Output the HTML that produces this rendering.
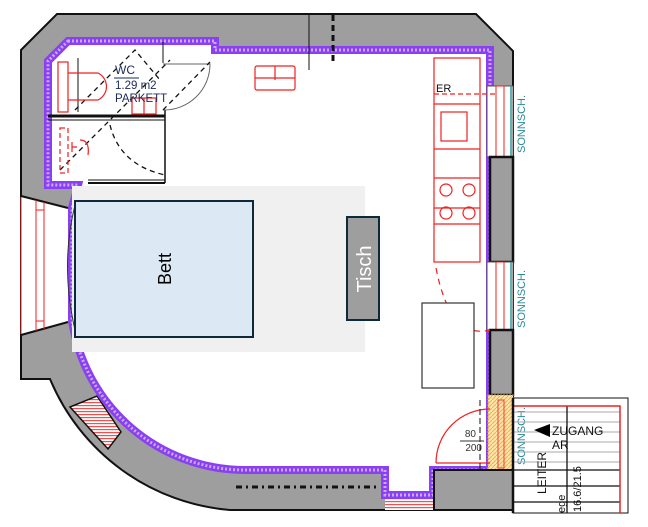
<!DOCTYPE html>
<html><head><style>body{margin:0;background:#fff}svg{display:block}</style></head>
<body>
<svg width="648" height="527" viewBox="0 0 648 527" xmlns="http://www.w3.org/2000/svg" font-family="Liberation Sans, sans-serif">
<defs>
<pattern id="hr" width="4" height="3" patternUnits="userSpaceOnUse"><rect width="4" height="3" fill="#fff"/><rect width="4" height="1.2" fill="#f05050"/></pattern>
<pattern id="hy" width="4" height="4" patternUnits="userSpaceOnUse"><rect width="4" height="4" fill="#fde7b0"/><path d="M0,4 L4,0" stroke="#f5b040" stroke-width="1"/></pattern>
</defs>
<path d="M21,50 L57,14 L476,14 L513,51 L513,510 L230,510 A214,214 0 0 1 50,379 L21,379 Z" fill="#9e9e9e" stroke="#111" stroke-width="2"/>
<polygon points="21,196 68,208 68,322 21,335" fill="#fff"/>
<line x1="21" y1="196" x2="68" y2="208" stroke="#111" stroke-width="2"/>
<line x1="21" y1="335" x2="68" y2="322" stroke="#111" stroke-width="2"/>
<g stroke="#f02020" stroke-width="1" fill="none"><line x1="21" y1="197" x2="21" y2="334"/><line x1="36" y1="200" x2="36" y2="331"/><line x1="44" y1="202" x2="44" y2="329"/><line x1="36" y1="210" x2="44" y2="210"/><line x1="36" y1="321" x2="44" y2="321"/></g>
<polygon points="70,407 97,396 121,432 108,449" fill="url(#hr)" stroke="#111" stroke-width="1.5"/>
<rect x="385" y="498" width="48" height="12" fill="url(#hr)"/>
<path d="M68,41 L215,41 L215,50 L490,50 L490,470 L433,470 L433,495 L385,495 L385,470 L245,470 A175,175 0 0 1 72,320 L72,208 L78,185 L48,185 L48,61 Z" fill="#fff" stroke="#8a40f0" stroke-width="8" stroke-linejoin="miter"/>
<path d="M68,41 L215,41 L215,50 L490,50 L490,470 L433,470 L433,495 L385,495 L385,470 L245,470 A175,175 0 0 1 72,320 L72,208 L78,185 L48,185 L48,61 Z" fill="none" stroke="#c9a8ff" stroke-width="3" stroke-dasharray="2 2"/>
<rect x="487" y="86" width="26" height="71" fill="#fff" stroke="#555" stroke-width="1"/>
<line x1="511" y1="86" x2="511" y2="157" stroke="#2a9a9a" stroke-width="1.5"/>
<rect x="496" y="86" width="8" height="71" fill="none" stroke="#f02020"/>
<rect x="490" y="157" width="23" height="105" fill="#9e9e9e" stroke="#111" stroke-width="2.5"/>
<rect x="487" y="262" width="26" height="68" fill="#fff" stroke="#555" stroke-width="1"/>
<line x1="511" y1="262" x2="511" y2="330" stroke="#2a9a9a" stroke-width="1.5"/>
<rect x="496" y="262" width="8" height="68" fill="none" stroke="#f02020"/>
<rect x="490" y="330" width="23" height="65" fill="#9e9e9e" stroke="#111" stroke-width="2.5"/>
<rect x="488" y="395" width="25" height="75" fill="url(#hy)" stroke="#c9a050" stroke-dasharray="2 1"/>
<rect x="498" y="400" width="6" height="68" fill="none" stroke="#f04040"/>
<rect x="434" y="470" width="79" height="40" fill="#9e9e9e" stroke="#111" stroke-width="2"/>
<rect x="72" y="186" width="293" height="166" fill="#f0f0f0"/>
<path d="M75,205 Q60,265 75,330" fill="none" stroke="#333" stroke-width="1"/>
<rect x="75" y="201" width="178" height="136" fill="#dce9f5" stroke="#0d2a3a" stroke-width="2"/>
<text transform="translate(171,269) rotate(-90)" font-size="18" text-anchor="middle" fill="#000">Bett</text>
<rect x="347" y="217" width="32" height="103" fill="#9e9e9e" stroke="#0d2a3a" stroke-width="2"/>
<text transform="translate(371,269) rotate(-90)" font-size="20" text-anchor="middle" fill="#fff">Tisch</text>
<g stroke="#111" fill="none">
<line x1="48" y1="116" x2="165" y2="116" stroke-width="3"/>
<line x1="48" y1="120" x2="165" y2="120" stroke-width="1"/>
<line x1="88" y1="183" x2="165" y2="183" stroke-width="2"/>
<line x1="88" y1="180" x2="165" y2="180" stroke-width="1"/>
<line x1="165" y1="110" x2="165" y2="183" stroke-width="1.5"/>
<line x1="78" y1="58" x2="78" y2="112" stroke-width="1"/>
<line x1="163" y1="42" x2="163" y2="63" stroke-width="1"/>
<line x1="309" y1="14" x2="309" y2="70" stroke-width="1"/>
<path d="M163,64 L210,64 A46,46 0 0 1 163,110" stroke="#666" stroke-width="1"/>
<g stroke-dasharray="5 4" stroke-width="1.3"><path d="M75,110 L135,50 L160,80"/><path d="M163,110 L210,62"/><path d="M60,170 L110,120 L170,60"/><path d="M110,125 Q120,165 165,175"/></g>
<line x1="333" y1="15" x2="333" y2="62" stroke-width="3" stroke-dasharray="6 4"/>
</g>
<g stroke="#f02020" fill="none" stroke-width="1.2">
<rect x="58" y="62" width="10" height="50"/><path d="M68,73 L98,73 A15,15 0 0 1 98,100 L68,100"/>
<rect x="132" y="98" width="24" height="16"/><line x1="144" y1="98" x2="144" y2="114"/>
<rect x="255" y="66" width="40" height="24" rx="2"/><line x1="255" y1="78" x2="295" y2="78"/><line x1="275" y1="66" x2="275" y2="80"/>
<rect x="60" y="128" width="8" height="45" stroke-dasharray="5 3"/>
<path d="M72,142 L72,152 M72,147 L77,147 M80,140 Q90,140 88,155" />
</g>
<text x="115" y="74" font-size="12" fill="#1a2a5a">WC</text>
<line x1="114" y1="78" x2="139" y2="78" stroke="#1a2a5a"/>
<text x="115" y="89" font-size="11.5" fill="#1a2a5a">1.29 m2</text>
<text x="115" y="102" font-size="11.5" fill="#1a2a5a">PARKETT</text>
<g stroke="#f02020" fill="none" stroke-width="1.2">
<rect x="434" y="58" width="46" height="204"/>
<line x1="434" y1="104" x2="480" y2="104"/><line x1="434" y1="149" x2="480" y2="149"/><line x1="434" y1="178" x2="480" y2="178"/><line x1="434" y1="208" x2="480" y2="208"/><line x1="434" y1="224" x2="480" y2="224"/>
<rect x="441" y="112" width="26" height="29"/>
<circle cx="446" cy="190" r="6"/><circle cx="469" cy="190" r="6"/><circle cx="446" cy="213" r="6"/><circle cx="469" cy="213" r="6"/>
<line x1="434" y1="94" x2="496" y2="94" stroke-dasharray="5 3"/>
<path d="M436,268 Q450,340 490,330" stroke-dasharray="6 5"/>
<path d="M436,463 A54,54 0 0 1 490,409"/>
<line x1="436" y1="463" x2="490" y2="463"/>
</g>
<text x="436" y="92" font-size="11" fill="#111">ER</text>
<rect x="422" y="303" width="52" height="85" fill="#fff" stroke="#333" stroke-width="1.2"/>
<line x1="480" y1="400" x2="480" y2="470" stroke="#111" stroke-dasharray="6 3"/>
<text x="476" y="437" font-size="10" fill="#333" text-anchor="end">80</text>
<line x1="460" y1="441" x2="484" y2="441" stroke="#333"/>
<text x="482" y="451" font-size="10" fill="#333" text-anchor="end">200</text>
<text transform="translate(525,153) rotate(-90)" font-size="11" fill="#2a8a9a">SONNSCH.</text>
<text transform="translate(525,328) rotate(-90)" font-size="11" fill="#2a8a9a">SONNSCH.</text>
<text transform="translate(525,465) rotate(-90)" font-size="11" fill="#2a8a9a">SONNSCH.</text>
<g fill="none">
<rect x="513" y="398" width="115" height="115" stroke="#111"/>
<g stroke="#aaa"><line x1="513" y1="412" x2="620" y2="412"/><line x1="513" y1="422" x2="620" y2="422"/><line x1="513" y1="432" x2="620" y2="432"/><line x1="513" y1="442" x2="620" y2="442"/><line x1="513" y1="452" x2="620" y2="452"/><line x1="513" y1="462" x2="620" y2="462"/></g>
<g stroke="#111" stroke-width="1.3"><line x1="513" y1="470" x2="620" y2="470"/><line x1="513" y1="486" x2="620" y2="486"/><line x1="513" y1="502" x2="620" y2="502"/><line x1="567" y1="406" x2="567" y2="513"/></g>
<path d="M513,406 L620,406 L620,513" stroke="#f02020" stroke-width="1.5"/>
<line x1="513" y1="398" x2="513" y2="513" stroke="#111" stroke-width="2.5"/>
</g>
<polygon points="534,430 550,424 550,437" fill="#000"/>
<text x="552" y="435" font-size="12" fill="#111">ZUGANG</text>
<text x="552" y="449" font-size="12" fill="#111">AR</text>
<text transform="translate(546,494) rotate(-90)" font-size="12" fill="#111">LEITER</text>
<text transform="translate(581,512) rotate(-90)" font-size="11" fill="#111">16.6/21.5</text>
<text transform="translate(565,513) rotate(-90)" font-size="11" fill="#111">ege</text>
<line x1="236" y1="487" x2="380" y2="487" stroke="#111" stroke-width="3" stroke-dasharray="6 4 2 4"/>
</svg>
</body></html>
